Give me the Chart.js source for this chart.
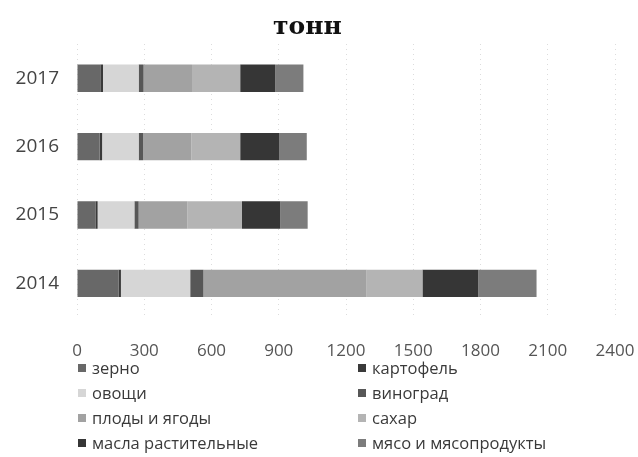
<!DOCTYPE html>
<html>
<head>
<meta charset="utf-8">
<script src="https://cdn.jsdelivr.net/npm/chart.js@4/dist/chart.umd.min.js"></script>
<style>
  html, body { margin: 0; padding: 0; background: #fff; }
  #wrap { position: relative; width: 638px; height: 457px; overflow: hidden; }
  #c { position: absolute; left: 0; top: 0; }
  #legend { position: absolute; left: 0; top: 0; width: 638px; height: 457px; pointer-events: none;
    font-family: "Open Sans", sans-serif; font-size: 16.5px; color: #3a3a3a; }
  .item { position: absolute; height: 20px; line-height: 20px; white-space: nowrap; }
  .box { position: absolute; left: 0; top: 6px; width: 8px; height: 8px; }
  .lbl { position: absolute; left: 14px; top: 0; }
</style>
</head>
<body>
<div id="wrap">
  <canvas id="c" width="638" height="384"></canvas>
  <div id="legend"></div>
</div>
<script>
const categories = ["2017", "2016", "2015", "2014"];
const seriesNames = ["зерно", "картофель", "овощи", "виноград", "плоды и ягоды", "сахар", "масла растительные", "мясо и мясопродукты"];
const zerno     = [104, 101, 82, 185];
const kartofel  = [12, 11, 10, 11];
const ovoshchi  = [159, 163, 164, 309];
const vinograd  = [22, 20, 19, 59];
const plody     = [216, 215, 218, 728];
const sakhar    = [215, 218, 243, 249];
const masla     = [156, 175, 171, 249];
const myaso     = [126, 122, 122, 260];
const xTicks    = [0, 300, 600, 900, 1200, 1500, 1800, 2100, 2400];
const titleText = "тонн";

const seriesValues = [zerno, kartofel, ovoshchi, vinograd, plody, sakhar, masla, myaso];
const colors = ["#686868", "#3a3a3a", "#d6d6d6", "#575757", "#a2a2a2", "#b4b4b4", "#363636", "#7c7c7c"];

const datasets = seriesNames.map((name, i) => ({
  label: name,
  data: seriesValues[i],
  backgroundColor: colors[i],
  borderWidth: 0,
  categoryPercentage: 1,
  barPercentage: 0.4
}));

new Chart(document.getElementById("c"), {
  type: "bar",
  data: { labels: categories, datasets },
  options: {
    indexAxis: "y",
    responsive: false,
    animation: false,
    layout: { padding: { left: 0, right: 23, top: 0, bottom: 0 } },
    plugins: {
      legend: { display: false },
      tooltip: { enabled: false },
      title: {
        display: true,
        text: titleText,
        color: "#111",
        font: { family: "DejaVu Serif", size: 25, weight: "bold" },
        padding: { top: 12, bottom: 2 }
      }
    },
    scales: {
      x: {
        stacked: true,
        min: 0,
        max: 2400,
        afterBuildTicks: (s) => { s.ticks = xTicks.map(v => ({ value: v })); },
        afterFit: (s) => { s.paddingLeft = 0; s.paddingRight = 0; },
        ticks: { color: "#555", font: { family: "Open Sans", size: 17 }, padding: 23, maxRotation: 0,
                 callback: (v) => String(v) },
        grid: { color: "#dcdcdc", drawTicks: false, lineWidth: 1 },
        border: { display: false, dash: [1, 4] }
      },
      y: {
        stacked: true,
        afterFit: (s) => { s.width = 77; },
        ticks: { color: "#444", font: { family: "Open Sans", size: 19 }, padding: 18 },
        grid: { display: false, drawTicks: false },
        border: { display: false }
      }
    }
  }
});

const legend = document.getElementById("legend");
const colX = [78, 358];
const rowY = [358, 383, 408, 433];
seriesNames.forEach((name, i) => {
  const it = document.createElement("div");
  it.className = "item";
  it.style.left = colX[i % 2] + "px";
  it.style.top = rowY[Math.floor(i / 2)] + "px";
  it.innerHTML = '<span class="box" style="background:' + colors[i] + '"></span><span class="lbl"></span>';
  it.querySelector(".lbl").textContent = name;
  legend.appendChild(it);
});
</script>
</body>
</html>
